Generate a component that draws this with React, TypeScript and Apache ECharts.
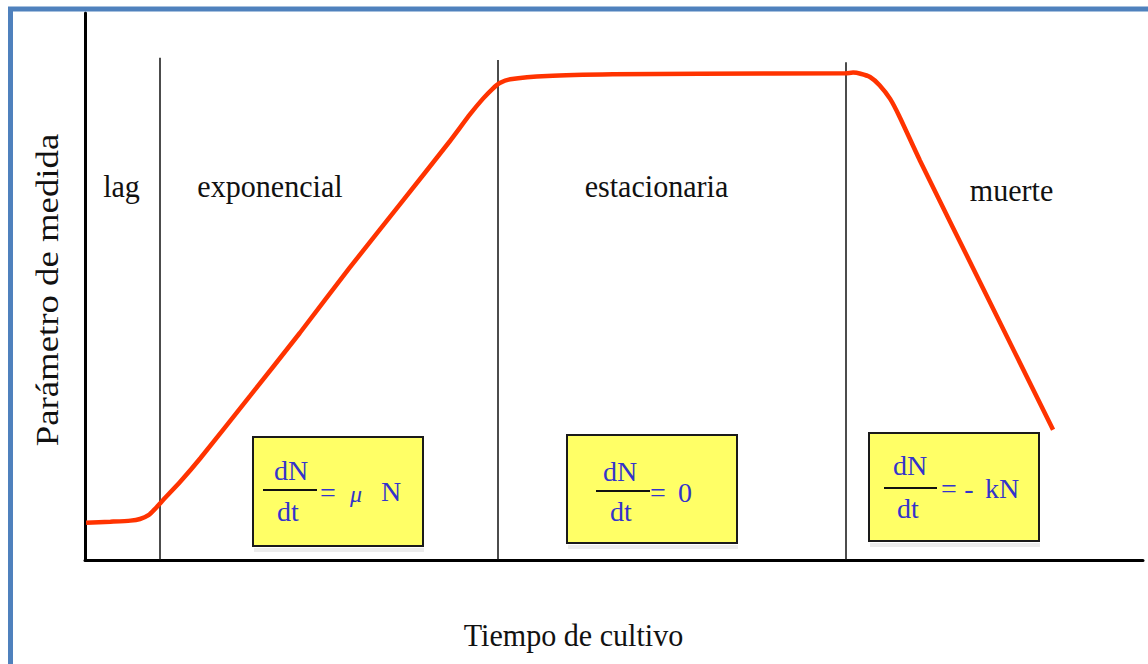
import React, { useEffect, useRef } from "react";
import * as echarts from "echarts";

// Curve: culture time (arbitrary units) vs measured parameter (arbitrary units)
const timeValues = [0.1, 2.4, 4.3, 5.2, 6.0, 6.6, 7.3, 9.0, 10.9, 15.6, 20.3, 25.0, 29.8, 34.5, 36.4, 37.6, 38.5, 39.2, 40.2, 43.7, 49.9, 58.1, 71.9, 72.6, 73.3, 74.2, 75.1, 76.1, 77.0, 78.9, 85.1, 91.5];
const growthValues = [6.8, 7.0, 7.2, 7.5, 8.2, 9.3, 10.8, 14.3, 18.6, 30.0, 41.5, 53.4, 65.1, 76.6, 81.5, 84.3, 86.1, 87.2, 87.9, 88.5, 88.8, 88.9, 89.0, 89.1, 88.9, 88.3, 86.8, 84.3, 81.0, 73.1, 48.8, 23.8];

// Phase boundaries (time) and the height at which each divider line stops
const phaseTimes = [7.1, 39.0, 71.9];
const phaseTops = [91.8, 91.4, 91.0];
const phaseNames = ["lag", "exponencial", "estacionaria", "muerte"];

const xAxisTitle = "Tiempo de cultivo";
const yAxisTitle = "Parámetro de medida";

const SERIF = '"Liberation Serif", "Times New Roman", serif';
const BLUE = "#3333cc";
const YELLOW = "#ffff66";

function label(text: string, x: number, y: number, extra: any = {}) {
  return {
    type: "text",
    x,
    y,
    scaleX: 0.94,
    z: 10,
    ...extra,
    style: {
      text,
      fill: "#111",
      fontFamily: SERIF,
      fontSize: 32,
      textAlign: "center",
      textVerticalAlign: "middle",
      align: "center",
      verticalAlign: "middle",
    },
  };
}

function blueText(text: string, x: number, y: number, size = 28, style: any = {}) {
  return {
    type: "text",
    x,
    y,
    z: 12,
    style: {
      text,
      fill: BLUE,
      fontFamily: SERIF,
      fontSize: size,
      textAlign: "center",
      textVerticalAlign: "middle",
      align: "center",
      verticalAlign: "middle",
      ...style,
    },
  };
}

function box(x: number, y: number, w: number, h: number) {
  return [
    {
      type: "rect",
      z: 8,
      shape: { x: x + 1, y: y + h + 2, width: w, height: 4 },
      style: { fill: "#ececec" },
    },
    {
      type: "rect",
      z: 9,
      shape: { x, y, width: w, height: h },
      style: { fill: YELLOW, stroke: "#1a1a1a", lineWidth: 2 },
    },
  ];
}

function fracLine(x1: number, x2: number, y: number) {
  return {
    type: "line",
    z: 12,
    shape: { x1, y1: y, x2, y2: y },
    style: { stroke: "#111", lineWidth: 2 },
  };
}

export default function App() {
  const ref = useRef<HTMLDivElement>(null);

  useEffect(() => {
    const chart = echarts.init(ref.current!, null, { renderer: "svg" });

    const curve = timeValues.map((t, i) => [t, growthValues[i]]);
    const dividers = phaseTimes.map((t, i) => [
      { coord: [t, 0] },
      { coord: [t, phaseTops[i]] },
    ]);

    chart.setOption({
      animation: false,
      backgroundColor: "#ffffff",
      grid: { left: 85, right: 5, top: 13, bottom: 104, containLabel: false },
      xAxis: {
        type: "value",
        min: 0,
        max: 100,
        axisLine: { show: true, lineStyle: { color: "#000", width: 3 } },
        axisTick: { show: false },
        axisLabel: { show: false },
        splitLine: { show: false },
      },
      yAxis: {
        type: "value",
        min: 0,
        max: 100,
        axisLine: { show: true, lineStyle: { color: "#000", width: 3 } },
        axisTick: { show: false },
        axisLabel: { show: false },
        splitLine: { show: false },
      },
      series: [
        {
          type: "line",
          data: curve,
          showSymbol: false,
          smooth: 0.2,
          lineStyle: { color: "#ff3300", width: 4.5 },
          z: 3,
          markLine: {
            silent: true,
            symbol: "none",
            label: { show: false },
            lineStyle: { color: "#111", width: 1.5, type: "solid" },
            emphasis: { disabled: true },
            data: dividers,
            z: 2,
          },
        },
      ],
      graphic: [
        {
          type: "rect",
          z: 1,
          shape: { x: 10.5, y: 9, width: 1200, height: 700 },
          style: { fill: "transparent", stroke: "#4f81bd", lineWidth: 5 },
        },
        label(phaseNames[0], 121.5, 186),
        label(phaseNames[1], 270, 186),
        label(phaseNames[2], 656.5, 186),
        label(phaseNames[3], 1011.5, 190),
        label(xAxisTitle, 573.5, 635),
        label(yAxisTitle, 47, 290, { rotation: Math.PI / 2, scaleX: 1.15 }),

        // dN/dt = μ N
        ...box(253, 437, 170, 109),
        blueText("dN", 291, 470),
        fracLine(263, 317, 490),
        blueText("dt", 288, 511),
        blueText("=", 328, 492),
        blueText("μ", 356, 494, 24, { fontStyle: "italic" }),
        blueText("N", 391, 491),

        // dN/dt = 0
        ...box(567, 435, 170, 108),
        blueText("dN", 620, 471),
        fracLine(596, 650, 491),
        blueText("dt", 621, 511),
        blueText("=", 658, 492),
        blueText("0", 685, 492),

        // dN/dt = - kN
        ...box(869, 433, 170, 108),
        blueText("dN", 910, 465),
        fracLine(884, 937, 488),
        blueText("dt", 908, 508),
        blueText("=", 949, 488),
        blueText("-", 969, 488),
        blueText("kN", 1002, 488),
      ],
    });

    return () => chart.dispose();
  }, []);

  return (
    <div
      ref={ref}
      style={{ position: "fixed", left: 0, top: 0, width: 1148, height: 664, background: "#fff" }}
    />
  );
}
